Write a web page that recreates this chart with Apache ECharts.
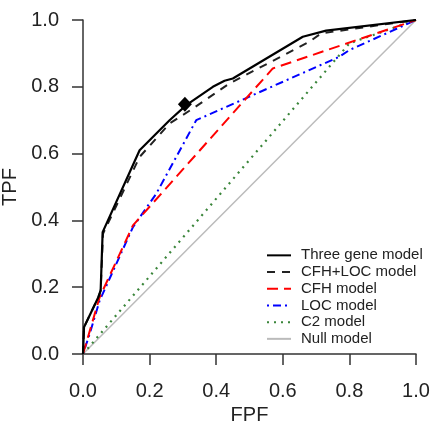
<!DOCTYPE html>
<html>
<head>
<meta charset="utf-8">
<script src="https://cdn.jsdelivr.net/npm/echarts@6/dist/echarts.min.js"></script>
<style>
html,body{margin:0;padding:0;background:#fff;}
#chart{width:432px;height:425px;}
</style>
</head>
<body>
<div id="chart"></div>
<script>
// ROC curves: [FPF, TPF]
var threeGene = [[0,0],[0.003,0.08],[0.046,0.17],[0.053,0.19],[0.059,0.365],[0.17,0.61],[0.26,0.70],[0.31,0.745],[0.39,0.80],[0.425,0.818],[0.45,0.825],[0.66,0.95],[0.73,0.968],[1,1]];
var cfhLoc = [[0,0],[0.003,0.08],[0.046,0.17],[0.053,0.19],[0.06,0.36],[0.17,0.59],[0.26,0.69],[0.33,0.735],[0.44,0.81],[0.68,0.935],[0.715,0.96],[1,1]];
var cfh = [[0,0],[0.05,0.17],[0.15,0.385],[0.57,0.855],[1,1]];
var loc = [[0,0],[0.02,0.06],[0.05,0.16],[0.15,0.38],[0.22,0.48],[0.34,0.70],[0.77,0.89],[0.80,0.91],[1,1]];
var c2 = [[0,0],[0.8,0.93],[1,1]];
var nullModel = [[0,0],[1,1]];
var highlightPoint = [[0.306,0.748]];
var seriesNames = ['Three gene model','CFH+LOC model','CFH model','LOC model','C2 model','Null model'];
var tickValues = [0,0.2,0.4,0.6,0.8,1.0];

var chart = echarts.init(document.getElementById('chart'));
var font = 'Liberation Sans, Arial, Helvetica, sans-serif';
function lineSeries(name, data, color, type, width){
  return {name:name,type:'line',data:data,symbol:'none',showSymbol:false,
    lineStyle:{color:color,width:width,type:type},itemStyle:{color:color},
    animation:false,z:3};
}
var axisCommon = {
  type:'value',min:0,max:1,interval:0.2,
  axisLine:{show:true,lineStyle:{color:'#333',width:1.5}},
  axisTick:{show:true,length:11,lineStyle:{color:'#333',width:1.5}},
  splitLine:{show:false},
  nameLocation:'middle',
  nameTextStyle:{fontSize:20,color:'#222',fontFamily:font},
  axisLabel:{fontSize:20,color:'#222',fontFamily:font,
    formatter:function(v){return v.toFixed(1);}}
};
chart.setOption({
  animation:false,
  grid:{left:83,right:16,top:20,bottom:71,containLabel:false,outerBoundsMode:'none'},
  xAxis:Object.assign({},axisCommon,{name:'FPF',nameGap:51,
    axisLabel:Object.assign({},axisCommon.axisLabel,{margin:27})}),
  yAxis:Object.assign({},axisCommon,{name:'TPF',nameGap:55,
    axisLabel:Object.assign({},axisCommon.axisLabel,{margin:24})}),
  legend:{
    data:seriesNames,orient:'vertical',left:261,top:242,
    itemWidth:24,itemHeight:12,itemGap:0,
    itemStyle:{opacity:0},
    textStyle:{fontSize:15,color:'#222',fontFamily:font,lineHeight:16.7,padding:[0,0,0,5]}
  },
  series:[
    lineSeries('Null model',nullModel,'#bbbbbb','solid',1.5),
    lineSeries('C2 model',c2,'#3a853a',[2,5],2.2),
    lineSeries('LOC model',loc,'#0000ff',[2,4,8,4],2),
    lineSeries('CFH model',cfh,'#ff0000',[11,6],2),
    lineSeries('CFH+LOC model',cfhLoc,'#222222',[8,7],2),
    lineSeries('Three gene model',threeGene,'#000000','solid',2.2),
    {name:'point',type:'scatter',data:highlightPoint,symbol:'diamond',symbolSize:[14,15],
     itemStyle:{color:'#000',opacity:1},z:5,animation:false}
  ]
});
</script>
</body>
</html>
